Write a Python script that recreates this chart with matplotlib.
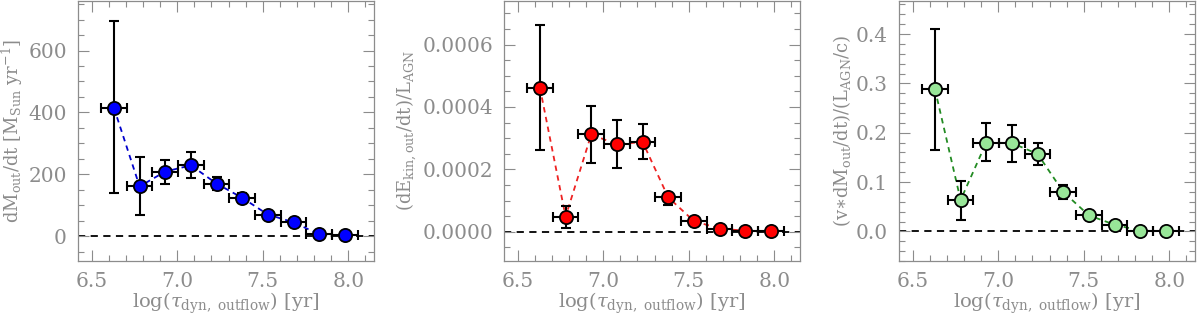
import numpy as np
import matplotlib
matplotlib.use("Agg")
import matplotlib.pyplot as plt
from matplotlib.ticker import MultipleLocator

# log(tau_dyn) bin centres and half widths
log_tau = [6.63, 6.78, 6.93, 7.08, 7.23, 7.38, 7.53, 7.68, 7.83, 7.98]
log_tau_err = [0.075] * 10

# mass outflow rate [Msun/yr]
mdot = [415, 161, 209, 229, 170, 124, 70, 45, 6, 3]
mdot_lo = [140, 70, 170, 187, 148, 107, 62, 39, 3, 1]
mdot_hi = [694, 256, 247, 271, 191, 140, 78, 51, 9, 5]

# kinetic power / L_AGN
ekin = [0.000462, 0.000048, 0.000312, 0.000280, 0.000288, 0.000110, 0.000034, 0.000010, 0.000003, 0.000001]
ekin_lo = [0.000262, 0.0000128, 0.000219, 0.000204, 0.000233, 0.0000855, 0.000029, 0.000008, 0.000002, 0.0000005]
ekin_hi = [0.000662, 0.000083, 0.000402, 0.000358, 0.000347, 0.000125, 0.000039, 0.000012, 0.000004, 0.0000015]

# momentum rate / (L_AGN/c)
pdot = [0.2885, 0.0636, 0.180, 0.179, 0.157, 0.080, 0.0324, 0.0136, 0.0014, 0.0005]
pdot_lo = [0.1655, 0.023, 0.142, 0.1406, 0.135, 0.066, 0.027, 0.010, 0.0008, 0.0002]
pdot_hi = [0.411, 0.103, 0.219, 0.2156, 0.180, 0.094, 0.038, 0.017, 0.002, 0.0008]

grey = "#8c8c8c"
plt.rcParams["font.family"] = "DejaVu Serif"
plt.rcParams["mathtext.fontset"] = "dejavuserif"

fig = plt.figure(figsize=(12, 3.16), dpi=100)

panels = [
    (mdot, mdot_lo, mdot_hi, "#0000ff", "#0000cc", (-80, 760), 200, 50, "%d",
     r"dM$_{\rm out}$/dt [M$_{\rm Sun}$ yr$^{-1}$]", 78),
    (ekin, ekin_lo, ekin_hi, "#ff0000", "#ee2222", (-0.000094, 0.00074), 0.0002, 0.00005, "%.4f",
     r"(dE$_{\rm kin,out}$/dt)/L$_{\rm AGN}$", 504),
    (pdot, pdot_lo, pdot_hi, "#98e698", "#228b22", (-0.06, 0.467), 0.1, 0.02, "%.1f",
     r"(v$\ast$dM$_{\rm out}$/dt)/(L$_{\rm AGN}$/c)", 899),
]

for y, lo, hi, fc, lc, ylim, major, minor, fmt, ylab, left in panels:
    ax = fig.add_axes([left / 1200, 55 / 316, 296 / 1200, 260 / 316])
    y = np.array(y)
    yerr = [y - np.array(lo), np.array(hi) - y]
    ax.axhline(0, color="black", ls="--", lw=1.3, dashes=(4, 3), zorder=1)
    ax.plot(log_tau, y, ls="--", color=lc, lw=1.3, dashes=(3, 2.5), zorder=2)
    ax.errorbar(log_tau, y, xerr=log_tau_err, yerr=yerr, fmt="none",
                ecolor="black", elinewidth=1.5, capsize=3.6, capthick=1.5, zorder=3)
    ax.plot(log_tau, y, "o", ms=9.5, mfc=fc, mec="black", mew=1.3, ls="none", zorder=4)
    ax.set_xlim(6.42, 8.15)
    ax.set_ylim(*ylim)
    ax.xaxis.set_major_locator(MultipleLocator(0.5))
    ax.xaxis.set_minor_locator(MultipleLocator(0.1))
    ax.yaxis.set_major_locator(MultipleLocator(major))
    ax.yaxis.set_minor_locator(MultipleLocator(minor))
    ax.yaxis.set_major_formatter(plt.FormatStrFormatter(fmt))
    ax.xaxis.set_major_formatter(plt.FormatStrFormatter("%.1f"))
    ax.tick_params(which="both", direction="in", top=True, right=True,
                   colors=grey, labelcolor=grey, labelsize=14.5, width=0.8)
    ax.tick_params(which="major", length=8)
    ax.tick_params(axis="x", which="major", pad=8)
    ax.tick_params(axis="y", which="major", pad=8)
    ax.tick_params(which="minor", length=4)
    for s in ax.spines.values():
        s.set_color(grey)
        s.set_linewidth(0.9)
    ax.set_xlabel(r"log($\tau_{\rm dyn,\ outflow}$) [yr]", color=grey, fontsize=14, labelpad=0)
    ax.set_ylabel(ylab, color=grey, fontsize=13, labelpad=2)

fig.savefig("out.png", dpi=100)
